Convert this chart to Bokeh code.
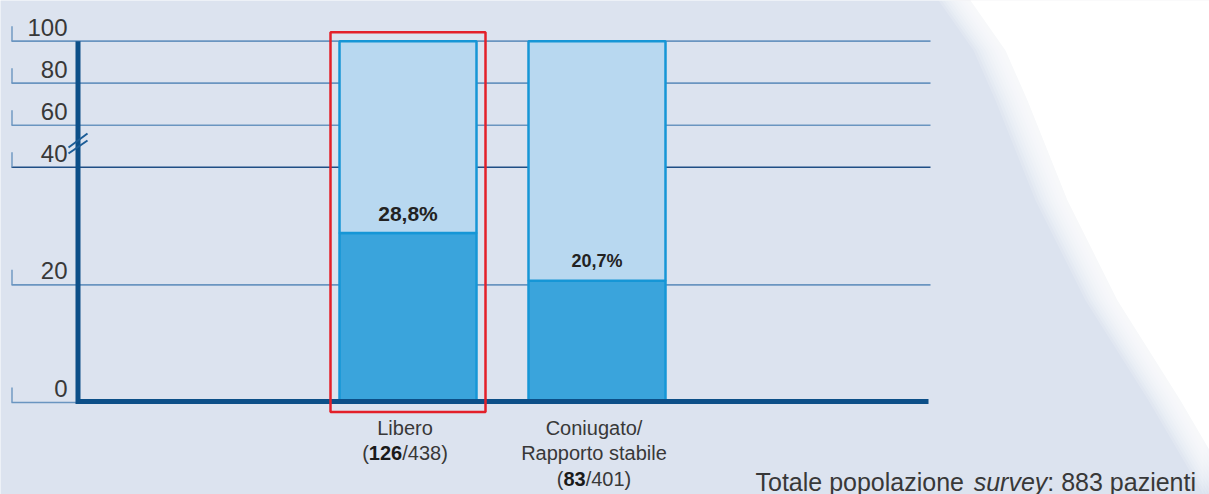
import numpy as np
from bokeh.plotting import figure
from bokeh.models import ColumnDataSource, Range1d
from bokeh.core.properties import value
from bokeh.embed import file_html
from bokeh.resources import INLINE

# ---------------- data ----------------
categories = ["Libero", "Coniugato/ Rapporto stabile"]
category_lines = [["Libero"], ["Coniugato/", "Rapporto stabile"]]
positives = [126, 83]
totals = [438, 401]
percent = [28.8, 20.7]
percent_labels = ["28,8%", "20,7%"]
percent_label_sizes = ["21px", "18px"]
y_ticks = [0, 20, 40, 60, 80, 100]
y_tick_labels = ["0", "20", "40", "60", "80", "100"]
highlight = "Libero"
note_parts = ["Totale popolazione ", "survey", ": 883 pazienti"]
note_italic = [False, True, False]

# ---------------- layout helpers ----------------
W, H = 1209, 494
PXX = 189.0          # px per category unit
PXY = 5.883          # px per percent unit (below the break)
X0 = 407.5           # canvas x of first category
Y0 = 402.0           # canvas y of value 0
BREAK = 40.0
COMPRESS = 0.357


def ty(v):
    v = np.asarray(v, dtype=float)
    return np.where(v <= BREAK, v, BREAK + (v - BREAK) * COMPRESS)


def X(px):
    return (px - X0) / PXX


def Y(py):
    return (Y0 - py) / PXY


ARIAL = {" ": 278, "(": 333, ")": 333, "/": 278, ":": 278, ",": 278, "%": 889,
         "T": 611, "L": 556, "C": 722, "R": 722,
         "a": 556, "b": 556, "c": 500, "d": 556, "e": 556, "f": 278, "g": 556,
         "h": 556, "i": 222, "j": 222, "k": 500, "l": 222, "m": 833, "n": 556,
         "o": 556, "p": 556, "q": 556, "r": 333, "s": 500, "t": 278, "u": 556,
         "v": 500, "w": 722, "x": 500, "y": 500, "z": 500}


def tw(s, size):
    return sum(ARIAL.get(c, 556) for c in s) / 1000.0 * size


FONT = value("Liberation Sans")
TXT = "#383838"
GRID = "#6a95c0"
AXIS = "#0c4f88"

p = figure(width=W, height=H, output_backend="svg", toolbar_location=None,
           x_range=Range1d(-X0 / PXX, (W - X0) / PXX),
           y_range=Range1d((Y0 - H) / PXY, Y0 / PXY),
           x_axis_type=None, y_axis_type=None, min_border=0)
p.background_fill_color = "#dce3ef"
p.border_fill_color = "#dce3ef"
p.outline_line_color = None
p.grid.visible = False

# white diagonal background area (soft edge)
shape = [(960, 0), (995, 50), (1017, 100), (1057, 200), (1107, 300),
         (1170, 400), (1225, 494), (1225, -10), (960, -10)]
for dx in range(-22, 8, 3):
    p.patch([X(sx + dx) for sx, sy in shape], [Y(sy) for sx, sy in shape],
            fill_color="white", fill_alpha=0.16, line_color=None)
p.patch([X(sx + 10) for sx, sy in shape], [Y(sy) for sx, sy in shape],
        fill_color="white", fill_alpha=1.0, line_color=None)

# gridlines and tick marks
yt = ty(y_ticks)
grid_cols = [GRID if t != 40 else "#1f4e85" for t in y_ticks]
p.segment(x0=[X(11)] * (len(y_ticks) - 1), x1=[X(930)] * (len(y_ticks) - 1),
          y0=yt[1:], y1=yt[1:], line_color=grid_cols[1:], line_width=1.6)
p.segment(x0=[X(11)], x1=[X(76)], y0=[yt[0]], y1=[yt[0]], line_color=GRID, line_width=1.6)
p.segment(x0=[X(11.5)] * len(y_ticks), x1=[X(11.5)] * len(y_ticks),
          y0=yt, y1=yt + 15 / PXY, line_color=GRID, line_width=1.4)

# tick labels
p.text(x=[X(67)] * len(y_ticks), y=yt, text=y_tick_labels, text_align="right",
       text_baseline="middle", y_offset=-14, text_font=FONT,
       text_font_size="24px", text_color=TXT)

# bars
xs = list(range(len(categories)))
src = ColumnDataSource(dict(x=xs, pct=ty(percent), full=ty([100] * len(xs)),
                            lab=percent_labels, fs=percent_label_sizes))
BW = 137 / PXX
p.vbar(x="x", width=BW, bottom=0, top="pct", source=src,
       fill_color="#3aa4dc", line_color="#1696d6", line_width=2.5)
p.vbar(x="x", width=BW, bottom="pct", top="full", source=src,
       fill_color="#b8d8f0", line_color="#1696d6", line_width=2.5)
p.text(x="x", y="pct", text="lab", source=src, text_align="center",
       text_baseline="middle", y_offset=-20, text_font=FONT,
       text_font_size="fs", text_font_style="bold", text_color="#222222")

# axes lines
p.segment(x0=[X(77.5)], x1=[X(77.5)], y0=[Y(403.5)], y1=[float(ty(100))],
          line_color=AXIS, line_width=5)
p.segment(x0=[X(75.5)], x1=[X(928)], y0=[Y(401)], y1=[Y(401)],
          line_color=AXIS, line_width=5)
# axis break mark
p.segment(x0=[X(68), X(68)], x1=[X(87), X(87)], y0=[Y(147), Y(153)], y1=[Y(133), Y(140)],
          line_color="#1c5d97", line_width=2)

# highlight box
hi = categories.index(highlight)
half = 77.5 / PXX
p.quad(left=[hi - half], right=[hi + half], bottom=[-9.5 / PXY],
       top=[float(ty(100)) + 9 / PXY], fill_color=None,
       line_color="#e3202a", line_width=2.5)

# category labels
line_y = [Y(427), Y(452), Y(478)]
CFS = 20
for i, lines in enumerate(category_lines):
    for j, s in enumerate(lines):
        p.text(x=[i], y=[line_y[j]], text=[s], text_align="center",
               text_baseline="middle", x_offset=-3, text_font=FONT,
               text_font_size=f"{CFS}px", text_color=TXT)
    parts = ["(", str(positives[i]), f"/{totals[i]})"]
    bold = [False, True, False]
    total_w = sum(tw(s, CFS) for s in parts)
    off = -total_w / 2 - 3
    for s, b in zip(parts, bold):
        p.text(x=[i], y=[line_y[len(lines)]], text=[s], text_align="left",
               text_baseline="middle", x_offset=off, text_font=FONT,
               text_font_size=f"{CFS}px", text_color="#1a1a1a" if b else TXT,
               text_font_style="bold" if b else "normal")
        off += tw(s, CFS)

# note
NFS = 25
off = 0.0
for s, it in zip(note_parts, note_italic):
    p.text(x=[X(755)], y=[Y(481)], text=[s], text_align="left",
           text_baseline="middle", x_offset=off, text_font=FONT,
           text_font_size=f"{NFS}px", text_color=TXT,
           text_font_style="italic" if it else "normal")
    off += tw(s, NFS)

open("out.html", "w").write(file_html(p, INLINE))
